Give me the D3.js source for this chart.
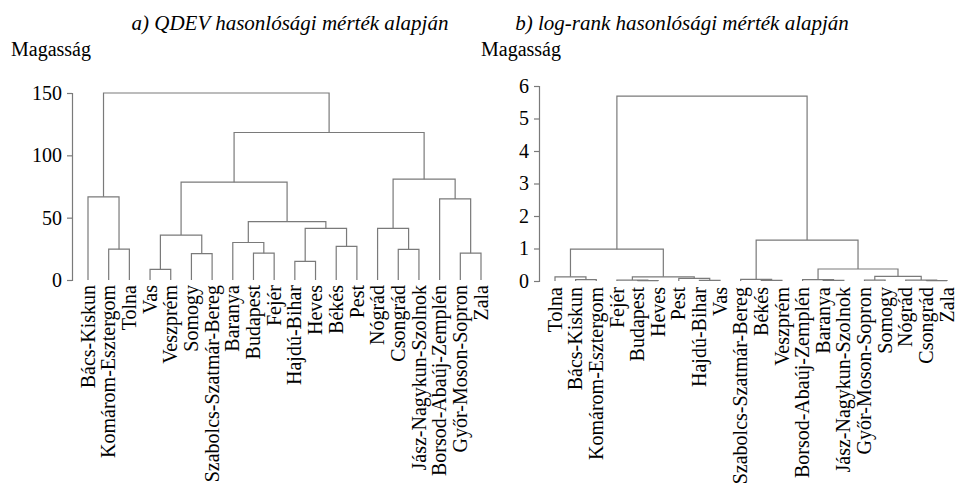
<!DOCTYPE html>
<html>
<head>
<meta charset="utf-8">
<script src="https://cdn.jsdelivr.net/npm/d3@7"></script>
<style>
  html, body { margin: 0; padding: 0; background: #fff; }
</style>
</head>
<body>
<svg id="chart" width="960" height="484"></svg>
<script>
// a) QDEV dendrogram: leaf order and merge table (negative = leaf, positive = earlier merge)
const leavesQdev = ["Bács-Kiskun","Komárom-Esztergom","Tolna","Vas","Veszprém","Somogy",
  "Szabolcs-Szatmár-Bereg","Baranya","Budapest","Fejér","Hajdú-Bihar","Heves","Békés","Pest",
  "Nógrád","Csongrád","Jász-Nagykun-Szolnok","Borsod-Abaúj-Zemplén","Győr-Moson-Sopron","Zala"];
const mergesQdev = [[-4,-5],[-11,-12],[-6,-7],[-9,-10],[-19,-20],[-16,-17],[-2,-3],[-13,-14],
  [-8,4],[1,3],[2,8],[-15,6],[9,11],[-18,5],[-1,7],[10,13],[12,14],[16,17],[15,18]];
const heightsQdev = [8.6,15,21.2,21.5,21.5,24.5,24.7,26.9,30.1,36,41.4,41.4,46.8,65,66.7,78.5,80.9,118.3,150];
const ticksQdev = [0,50,100,150];

// b) log-rank dendrogram
const leavesLogrank = ["Tolna","Bács-Kiskun","Komárom-Esztergom","Fejér","Budapest","Heves","Pest",
  "Hajdú-Bihar","Vas","Szabolcs-Szatmár-Bereg","Békés","Veszprém","Borsod-Abaúj-Zemplén","Baranya",
  "Jász-Nagykun-Szolnok","Győr-Moson-Sopron","Somogy","Nógrád","Csongrád","Zala"];
const mergesLogrank = [[-5,-6],[-8,-9],[-11,-12],[-14,-15],[-19,-20],[-16,-17],[-4,1],[-18,5],
  [-13,4],[-10,3],[-2,-3],[-7,2],[-1,11],[7,12],[6,8],[9,15],[13,14],[10,16],[17,18]];
const heightsLogrank = [0.01,0.02,0.02,0.02,0.01,0.03,0.03,0.03,0.04,0.05,0.04,0.08,0.13,0.13,0.14,0.37,0.98,1.26,5.69];
const ticksLogrank = [0,1,2,3,4,5,6];

const titles = ["a) QDEV hasonlósági mérték alapján", "b) log-rank hasonlósági mérték alapján"];
const yTitle = "Magasság";

const svg = d3.select("#chart");
const lineColor = "#7a7a7a";
const serif = "'Liberation Serif', 'Times New Roman', Times, serif";

function panel(cfg) {
  const g = svg.append("g");
  const x = d3.scalePoint().domain(cfg.leaves).range(cfg.xRange);
  const y = d3.scaleLinear().domain([0, d3.max(cfg.ticks)]).range(cfg.yRange);

  // y axis
  const axis = g.append("g")
    .attr("transform", `translate(${cfg.axisX},0)`)
    .call(d3.axisLeft(y).tickValues(cfg.ticks).tickSizeOuter(0).tickSize(5).tickPadding(5).tickFormat(d3.format("d")));
  axis.attr("font-family", null).attr("font-size", null);
  axis.selectAll("path,line").attr("stroke", lineColor).attr("stroke-width", 1.2);
  axis.selectAll("text")
    .style("font-family", serif).style("font-size", "20px").attr("fill", "#000");

  // merge geometry
  const nodeX = [];
  const xOf = r => r < 0 ? x(cfg.leaves[-r - 1]) : nodeX[r - 1];
  const hOf = r => r < 0 ? 0 : cfg.heights[r - 1];
  cfg.merges.forEach((m, i) => { nodeX[i] = (xOf(m[0]) + xOf(m[1])) / 2; });

  g.append("g").selectAll("path")
    .data(cfg.merges)
    .join("path")
    .attr("fill", "none")
    .attr("stroke", lineColor)
    .attr("stroke-width", 1.2)
    .attr("d", (m, i) => {
      const h = cfg.heights[i];
      const x0 = xOf(m[0]), x1 = xOf(m[1]);
      return `M${x0},${y(hOf(m[0]))}V${y(h)}H${x1}V${y(hOf(m[1]))}`;
    });

  // leaf labels
  g.append("g").selectAll("text")
    .data(cfg.leaves)
    .join("text")
    .attr("transform", d => `translate(${x(d)},${cfg.labelTop}) rotate(-90)`)
    .attr("text-anchor", "end")
    .attr("dy", "0.33em")
    .style("font-family", serif).style("font-size", "20px")
    .attr("fill", "#000")
    .text(d => d);

  // titles
  svg.append("text").attr("x", cfg.titleX).attr("y", 30).attr("text-anchor", "middle")
    .style("font-family", serif).style("font-size", "21px").style("font-style", "italic")
    .attr("fill", "#000").text(cfg.title);
  svg.append("text").attr("x", cfg.yTitleX).attr("y", 56)
    .style("font-family", serif).style("font-size", "20px")
    .attr("fill", "#000").text(yTitle);
}

panel({
  leaves: leavesQdev, merges: mergesQdev, heights: heightsQdev, ticks: ticksQdev,
  xRange: [88, 481], yRange: [280, 93], axisX: 72, labelTop: 285,
  title: titles[0], titleX: 290, yTitleX: 11
});

panel({
  leaves: leavesLogrank, merges: mergesLogrank, heights: heightsLogrank, ticks: ticksLogrank,
  xRange: [555, 947], yRange: [281, 86], axisX: 539, labelTop: 287,
  title: titles[1], titleX: 682, yTitleX: 481
});
</script>
</body>
</html>
